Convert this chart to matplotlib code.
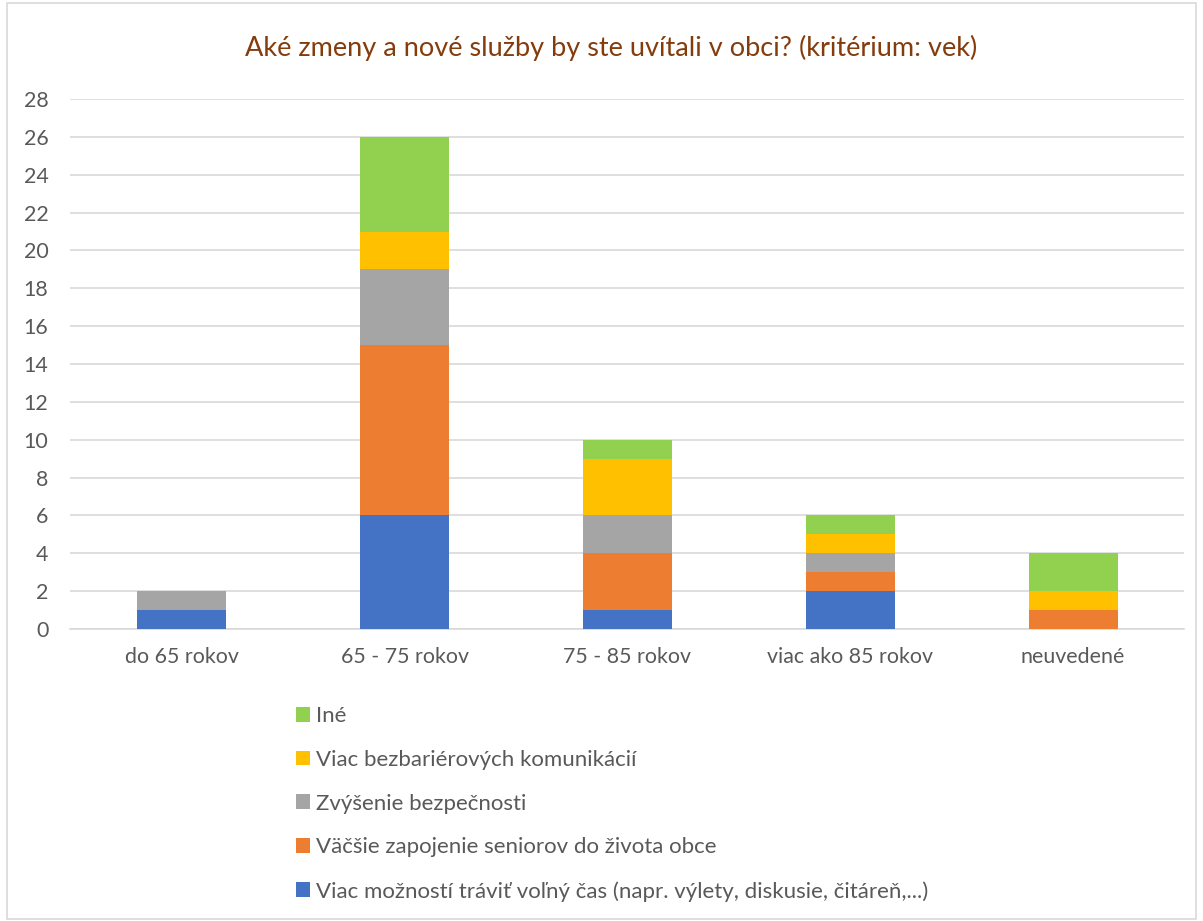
import matplotlib.pyplot as plt
import numpy as np
from matplotlib.patches import Rectangle

plt.rcParams['font.family'] = ['Lato', 'DejaVu Sans']

categories = ["do 65 rokov", "65 - 75 rokov", "75 - 85 rokov", "viac ako 85 rokov", "neuvedené"]
series = [
    "Viac možností tráviť voľný čas (napr. výlety, diskusie, čitáreň,...)",
    "Väčšie zapojenie seniorov do života obce",
    "Zvýšenie bezpečnosti",
    "Viac bezbariérových komunikácií",
    "Iné",
]
volny_cas = [1, 6, 1, 2, 0]
zapojenie = [0, 9, 3, 1, 1]
bezpecnost = [1, 4, 2, 1, 0]
bezbarierove = [0, 2, 3, 1, 1]
ine = [0, 5, 1, 1, 2]
colors = ["#4472C4", "#ED7D31", "#A5A5A5", "#FFC000", "#92D050"]

fig = plt.figure(figsize=(12.03, 9.21), dpi=100)
ax = fig.add_axes([0.0586, 0.317, 0.926, 0.5755])

x = np.arange(len(categories))
bottom = np.zeros(len(categories))
handles = []
for vals, name, c in zip([volny_cas, zapojenie, bezpecnost, bezbarierove, ine], series, colors):
    b = ax.bar(x, vals, 0.4, bottom=bottom, color=c, label=name, zorder=3)
    handles.append(b)
    bottom += np.array(vals)

ax.set_xlim(-0.5, len(categories) - 0.5)
ax.set_ylim(0, 28)
ax.set_yticks(range(0, 29, 2))
ax.set_xticks(x)
ax.set_xticklabels(categories)
ax.grid(axis='y', color='#D9D9D9', linewidth=1.2, zorder=0)
for s in ['top', 'right', 'left']:
    ax.spines[s].set_visible(False)
ax.spines['bottom'].set_color('#D9D9D9')
ax.spines['bottom'].set_linewidth(1.2)
ax.tick_params(length=0, labelsize=15.4, labelcolor='#595959')
ax.tick_params(axis='x', pad=13)
ax.tick_params(axis='y', pad=16)

fig.text(0.508, 0.948, "Aké zmeny a nové služby by ste uvítali v obci? (kritérium: vek)",
         ha='center', va='center', fontsize=19.5, color='#843C0C')

fig.legend(handles[::-1], series[::-1], loc='upper left', bbox_to_anchor=(0.246, 0.2335),
           frameon=False, fontsize=16, labelcolor='#595959', handlelength=0.65,
           handleheight=0.65, handletextpad=0.27, labelspacing=1.07, borderpad=0,
           borderaxespad=0)

fig.patches.append(Rectangle((0.006, 0.002), 0.988, 0.995, transform=fig.transFigure,
                             fill=False, edgecolor='#D9D9D9', linewidth=1.2))

fig.savefig("out.png", dpi=100)
